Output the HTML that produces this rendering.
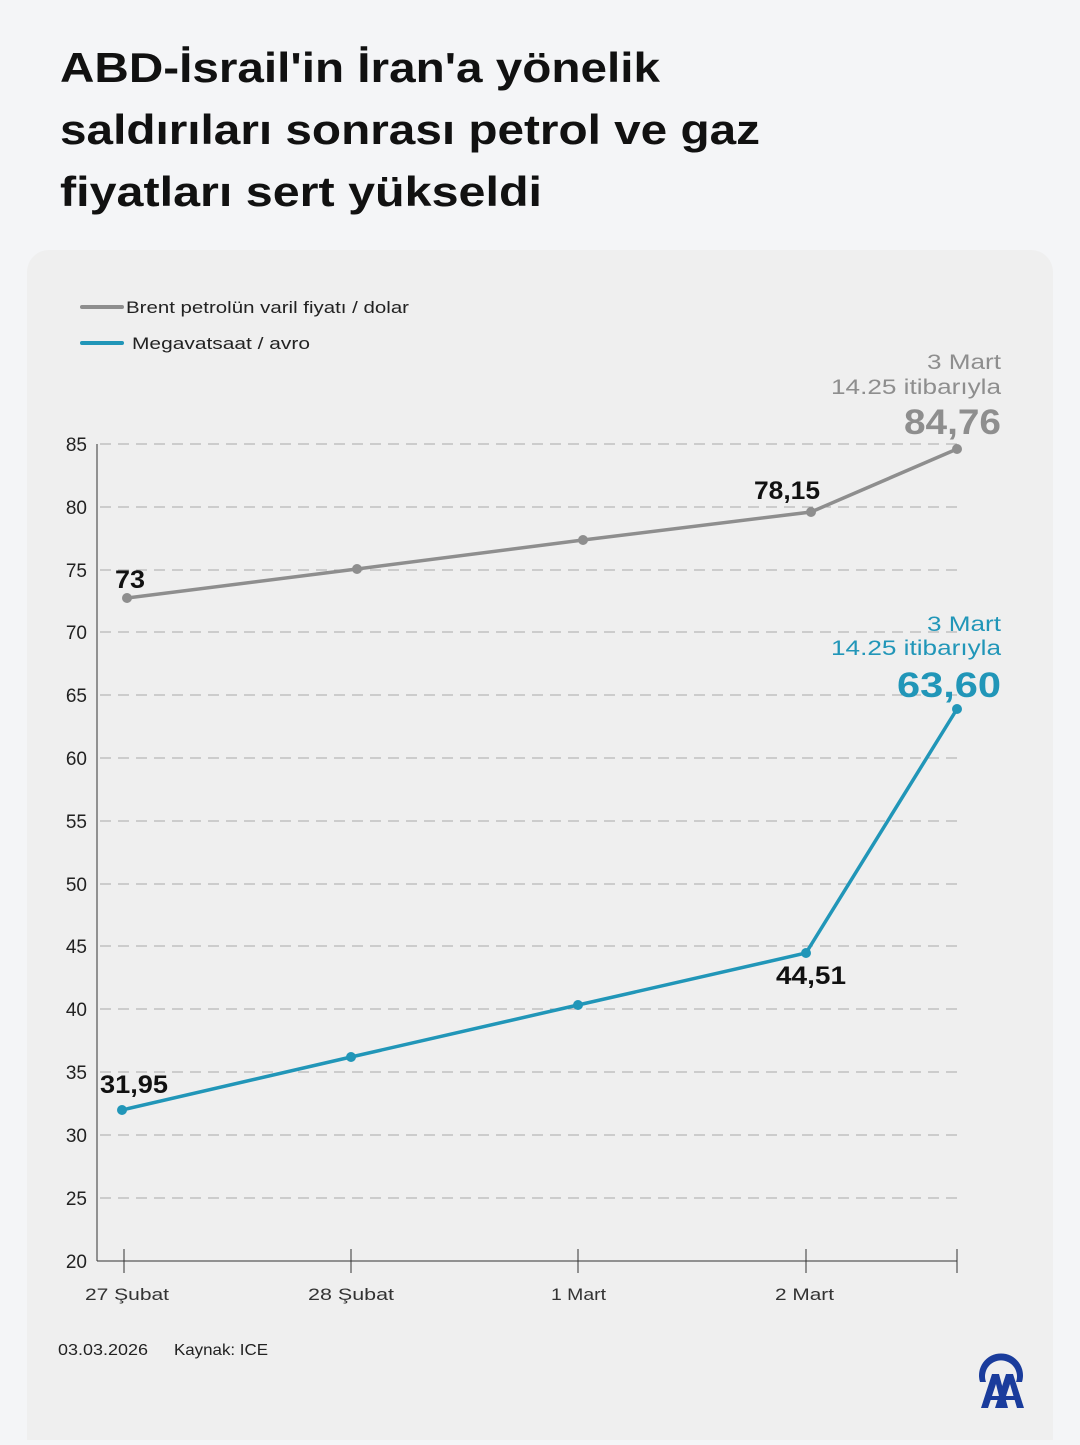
<!DOCTYPE html>
<html><head><meta charset="utf-8"><style>
html,body{margin:0;padding:0;background:#f4f5f7;}
body{width:1080px;height:1440px;position:relative;overflow:hidden;font-family:"Liberation Sans",sans-serif;}
</style></head><body>
<svg width="1080" height="1440" xmlns="http://www.w3.org/2000/svg" font-family="Liberation Sans, sans-serif">
<rect width="1080" height="1440" fill="#f4f5f7"/>
<rect x="27" y="250" width="1026" height="1230" rx="22" fill="#efefef"/>
<g font-size="42" font-weight="bold" fill="#111" lengthAdjust="spacingAndGlyphs">
<text x="60" y="82" textLength="600" lengthAdjust="spacingAndGlyphs">ABD-İsrail'in İran'a yönelik</text>
<text x="60" y="144" textLength="700" lengthAdjust="spacingAndGlyphs">saldırıları sonrası petrol ve gaz</text>
<text x="60" y="206" textLength="482" lengthAdjust="spacingAndGlyphs">fiyatları sert yükseldi</text>
</g>
<line x1="82" y1="307" x2="122" y2="307" stroke="#8e8e8e" stroke-width="4" stroke-linecap="round"/>
<text x="126" y="313" font-size="17" fill="#222" textLength="283" lengthAdjust="spacingAndGlyphs">Brent petrolün varil fiyatı / dolar</text>
<line x1="82" y1="343" x2="122" y2="343" stroke="#2196b8" stroke-width="4" stroke-linecap="round"/>
<text x="132" y="349" font-size="17" fill="#222" textLength="178" lengthAdjust="spacingAndGlyphs">Megavatsaat / avro</text>
<g stroke="#aaa" stroke-width="1" stroke-dasharray="11,7">
<line x1="100" x2="957" y1="444" y2="444"/><line x1="100" x2="957" y1="507" y2="507"/>
<line x1="100" x2="957" y1="570" y2="570"/><line x1="100" x2="957" y1="632" y2="632"/>
<line x1="100" x2="957" y1="695" y2="695"/><line x1="100" x2="957" y1="758" y2="758"/>
<line x1="100" x2="957" y1="821" y2="821"/><line x1="100" x2="957" y1="884" y2="884"/>
<line x1="100" x2="957" y1="946" y2="946"/><line x1="100" x2="957" y1="1009" y2="1009"/>
<line x1="100" x2="957" y1="1072" y2="1072"/><line x1="100" x2="957" y1="1135" y2="1135"/>
<line x1="100" x2="957" y1="1198" y2="1198"/>
</g>
<g stroke="#333" stroke-width="1">
<line x1="97" y1="444" x2="97" y2="1261"/>
<line x1="97" y1="1261" x2="957" y2="1261"/>
<line x1="124" y1="1249" x2="124" y2="1273"/><line x1="351" y1="1249" x2="351" y2="1273"/>
<line x1="578" y1="1249" x2="578" y2="1273"/><line x1="806" y1="1249" x2="806" y2="1273"/>
<line x1="957" y1="1249" x2="957" y2="1273"/>
</g>
<g font-size="19" fill="#222" text-anchor="end">
<text x="87" y="451">85</text><text x="87" y="514">80</text><text x="87" y="577">75</text>
<text x="87" y="639">70</text><text x="87" y="702">65</text><text x="87" y="765">60</text>
<text x="87" y="828">55</text><text x="87" y="891">50</text><text x="87" y="953">45</text>
<text x="87" y="1016">40</text><text x="87" y="1079">35</text><text x="87" y="1142">30</text>
<text x="87" y="1205">25</text><text x="87" y="1268">20</text>
</g>
<g font-size="17" fill="#333">
<text x="85" y="1300" textLength="84" lengthAdjust="spacingAndGlyphs">27 Şubat</text>
<text x="308" y="1300" textLength="86" lengthAdjust="spacingAndGlyphs">28 Şubat</text>
<text x="551" y="1300" textLength="55" lengthAdjust="spacingAndGlyphs">1 Mart</text>
<text x="775" y="1300" textLength="59" lengthAdjust="spacingAndGlyphs">2 Mart</text>
</g>
<polyline points="127,598 357,569 583,540 811,512 957,449" fill="none" stroke="#8e8e8e" stroke-width="3.5"/>
<g fill="#8e8e8e"><circle cx="127" cy="598" r="5"/><circle cx="357" cy="569" r="5"/><circle cx="583" cy="540" r="5"/><circle cx="811" cy="512" r="5"/><circle cx="957" cy="449" r="5"/></g>
<polyline points="122,1110 351,1057 578,1005 806,953 957,709" fill="none" stroke="#2196b8" stroke-width="3.5"/>
<g fill="#2196b8"><circle cx="122" cy="1110" r="5"/><circle cx="351" cy="1057" r="5"/><circle cx="578" cy="1005" r="5"/><circle cx="806" cy="953" r="5"/><circle cx="957" cy="709" r="5"/></g>
<g font-size="25" font-weight="bold" fill="#111">
<text x="115" y="588" textLength="30" lengthAdjust="spacingAndGlyphs">73</text>
<text x="754" y="499" textLength="66" lengthAdjust="spacingAndGlyphs">78,15</text>
<text x="100" y="1093" textLength="68" lengthAdjust="spacingAndGlyphs">31,95</text>
<text x="776" y="984" textLength="70" lengthAdjust="spacingAndGlyphs">44,51</text>
</g>
<g>
<text x="927" y="369" font-size="21" fill="#8e8e8e" textLength="74" lengthAdjust="spacingAndGlyphs">3 Mart</text>
<text x="831" y="394" font-size="21" fill="#8e8e8e" textLength="170" lengthAdjust="spacingAndGlyphs">14.25 itibarıyla</text>
<text x="904" y="434" font-size="35" font-weight="bold" fill="#8e8e8e" textLength="97" lengthAdjust="spacingAndGlyphs">84,76</text>
<text x="927" y="631" font-size="21" fill="#2196b8" textLength="74" lengthAdjust="spacingAndGlyphs">3 Mart</text>
<text x="831" y="655" font-size="21" fill="#2196b8" textLength="170" lengthAdjust="spacingAndGlyphs">14.25 itibarıyla</text>
<text x="897" y="697" font-size="35" font-weight="bold" fill="#2196b8" textLength="104" lengthAdjust="spacingAndGlyphs">63,60</text>
</g>
<text x="58" y="1355" font-size="16" fill="#222" textLength="90" lengthAdjust="spacingAndGlyphs">03.03.2026</text>
<text x="174" y="1355" font-size="16" fill="#222" textLength="94" lengthAdjust="spacingAndGlyphs">Kaynak: ICE</text>
<g fill="#1a3c9c">
<path d="M980,1382 A22,22 0 1 1 1022,1382 L1016,1382 A16,16 0 1 0 986,1382 Z"/>
<path d="M981,1408 L992,1374 L999,1374 L1008,1408 L1002,1408 L996,1384 L988,1408 Z"/>
<path d="M995,1408 L1006,1374 L1013,1374 L1024,1408 L1017,1408 L1010,1384 L1002,1408 Z"/>
<rect x="987" y="1396" width="30" height="4"/>
</g>
</svg>
</body></html>
